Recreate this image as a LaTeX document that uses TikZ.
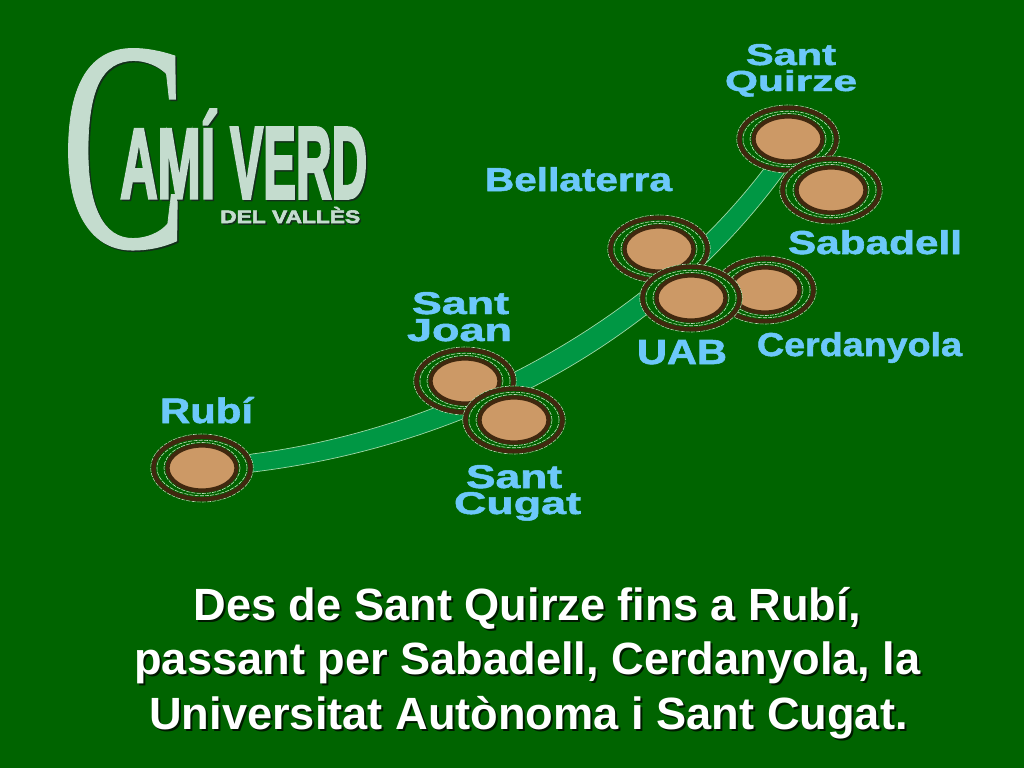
\documentclass[tikz,border=0pt]{standalone}
\usepackage{fontspec}
\usepackage{graphicx}
\usetikzlibrary{shapes.geometric}
\setmainfont{Liberation Sans}
\newfontfamily\labfont[FakeBold=1.5]{Liberation Sans Bold}
\newfontfamily\logofont[FakeBold=3.5]{Liberation Sans Bold}
\newfontfamily\delfont[FakeBold=3]{Liberation Sans Bold}
\newfontfamily\cfont[FakeBold=0.4]{Liberation Serif}
\definecolor{bg}{HTML}{006400}
\definecolor{road}{HTML}{009744}
\definecolor{roadedge}{HTML}{A0D8A8}
\definecolor{ring}{HTML}{40280F}
\definecolor{tan}{HTML}{CC9966}
\definecolor{labelblue}{HTML}{6CC8FA}
\definecolor{logo}{HTML}{C4DCCE}
\definecolor{logoshadow}{HTML}{12301A}
\definecolor{edge}{HTML}{C8DCC0}
\tikzset{
  st/.style={ellipse,inner sep=0,outer sep=0},
  stdash/.style={st,draw=edge,line width=0.6pt,dash pattern=on 4pt off 1.2pt},
  stouter/.style={stdash,fill=bg,minimum width=102.5pt,minimum height=68pt},
  string/.style={st,draw=ring,line width=4.4pt,minimum width=97pt,minimum height=62.5pt},
  stgapa/.style={stdash,minimum width=90pt,minimum height=55.5pt},
  stgapb/.style={stdash,minimum width=76pt,minimum height=51pt},
  stcore/.style={st,draw=ring,fill=tan,line width=4.2pt,minimum width=69pt,minimum height=45pt},
  lab/.style={anchor=base,inner sep=0,text=labelblue,font=\labfont},
  capt/.style={anchor=base,inner sep=0,text=white,font=\fontsize{45.2}{54}\bfseries\selectfont},
  captshadow/.style={anchor=base,inner sep=0,text=black!75!bg,font=\fontsize{45.2}{54}\bfseries\selectfont},
  logotext/.style={anchor=base west,inner sep=0,text=logo},
  logoback/.style={anchor=base west,inner sep=0,text=logoshadow},
}
\newcommand{\station}[2]{%
  \node[stouter] (#1-o) at (#2) {};
  \node[string] (#1) at (#2) {};
  \node[stgapa] (#1-a) at (#2) {};
  \node[stgapb] (#1-b) at (#2) {};
  \node[stcore] (#1-c) at (#2) {};
}
\newcommand{\fit}[3]{\resizebox{#1pt}{#2pt}{#3}}
\newcommand{\logopiece}[7]{% name,x,y,w,h,font,text
  \node[logoback] (#1-s) at (#2+1.5,#3+1.5) {\fit{#4}{#5}{#6\relax#7}};
  \node[logotext] (#1) at (#2,#3) {\fit{#4}{#5}{#6\relax#7}};
}
\begin{document}
\begin{tikzpicture}[x=1pt,y=-1pt]
\useasboundingbox (0,0) rectangle (1024,768);
\fill[bg] (0,0) rectangle (1024,768);

% logo
\logopiece{logoc}{60.5}{247}{127}{198}{\cfont}{C}
\logopiece{logoami}{120}{198}{95}{88}{\logofont}{AMÍ}
\logopiece{logoverd}{230}{198}{137}{70}{\logofont}{VERD}
\logopiece{logodel}{220}{223}{140}{16}{\delfont}{DEL VALLÈS}

% road
\coordinate (roadA) at (202,468);
\coordinate (roadB) at (788,139);
\fill[road,draw=roadedge,line width=0.7pt] (roadA) -- (252,454)
  .. controls (440,430) and (640,330) .. (763,170) -- (roadB) -- (790,165)
  .. controls (655,355) and (450,448) .. (253,472) -- cycle;

\station{rubi}{202,468}
\station{joan}{465,381}
\station{cugat}{514,420}
\station{quirze}{788,139}
\station{sabadell}{831,190}
\station{cerdanyola}{765,290}
\station{bellaterra}{659,249}
\station{uab}{691,298}

% labels
\node[lab] (l-sant1) at (791,65) {\fit{90}{21}{Sant}};
\node[lab] (l-quirze) at (791,91) {\fit{132}{21}{Quirze}};
\node[lab] (l-bell) at (578.5,191) {\fit{187}{24}{Bellaterra}};
\node[lab] (l-saba) at (875,254) {\fit{174}{24}{Sabadell}};
\node[lab] (l-cerd) at (859.5,356) {\fit{205}{24}{Cerdanyola}};
\node[lab] (l-uab) at (682,364) {\fit{90}{24}{UAB}};
\node[lab] (l-sant2) at (460.5,314) {\fit{97}{22}{Sant}};
\node[lab] (l-joan) at (459.5,341) {\fit{105}{22}{Joan}};
\node[lab] (l-rubi) at (206.5,423) {\fit{93}{26}{Rubí}};
\node[lab] (l-sant3) at (514,488) {\fit{96}{23}{Sant}};
\node[lab] (l-cugat) at (517.5,514) {\fit{127}{22}{Cugat}};

% caption
\node[captshadow] (c1s) at (529.5,622) {Des de Sant Quirze fins a Rubí,};
\node[captshadow] (c2s) at (529.5,676.5) {passant per Sabadell, Cerdanyola, la};
\node[captshadow] (c3s) at (530.5,731) {Universitat Autònoma i Sant Cugat.};
\node[capt] (c1) at (527.5,620) {Des de Sant Quirze fins a Rubí,};
\node[capt] (c2) at (527.5,674.5) {passant per Sabadell, Cerdanyola, la};
\node[capt] (c3) at (528.5,729) {Universitat Autònoma i Sant Cugat.};
\end{tikzpicture}
\end{document}
